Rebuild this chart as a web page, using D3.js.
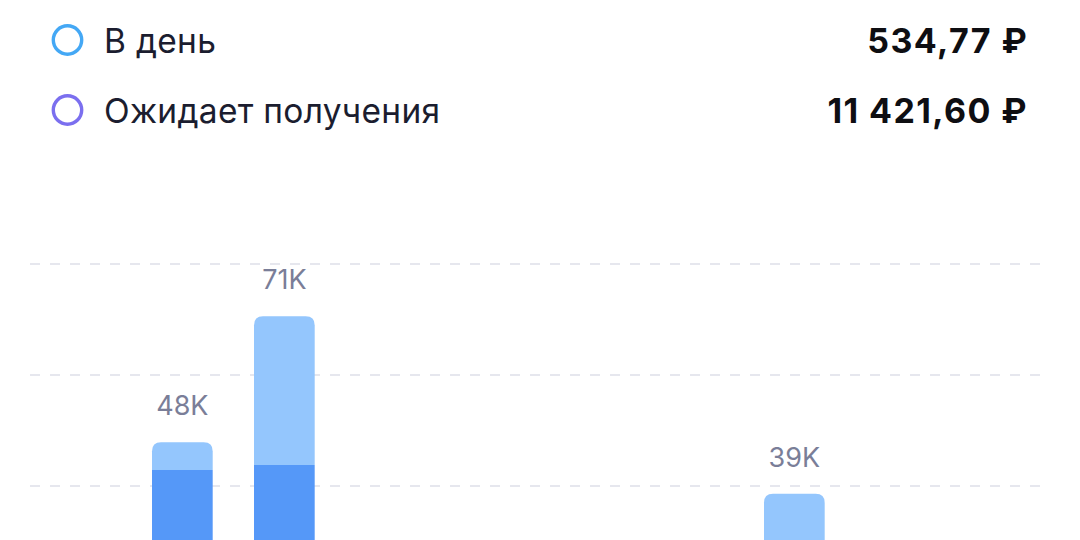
<!DOCTYPE html>
<html>
<head>
<meta charset="utf-8">
<script src="https://cdn.jsdelivr.net/npm/d3@7"></script>
<style>
  html, body { margin: 0; padding: 0; background: #fff; }
  svg { display: block; font-family: Inter, "Noto Sans", sans-serif; }
  .legend-label { font-size: 33.5px; letter-spacing: 0.3px; fill: #1b1d2f; }
  .legend-value { font-size: 34px; font-weight: 700; letter-spacing: 1.4px; fill: #0e0e12; }
  .bar-label { font-size: 27px; fill: #7a7e98; }
  .grid line { stroke: #e6e7ee; stroke-width: 2; stroke-dasharray: 10 10; }
</style>
</head>
<body>
<div id="chart"></div>
<script>
var W = 1080;
var H = 540;

// legend rows
var legendNames = ["В день", "Ожидает получения"];
var legendValues = ["534,77 ₽", "11 421,60 ₽"];
var legendColors = ["#44a8f5", "#7b6fef"];

// bars (x labels fall below the visible area)
var days = ["d1", "d2", "d3", "d4", "d5", "d6", "d7"];
var received = [42900, 43800, 0, 0, 0, 0, 0];
var pending = [5000, 26800, 0, 0, 0, 0, 38600];
var yTicks = [0, 20000, 40000, 60000, 80000];

var COLOR_RECEIVED = "#5598f8";
var COLOR_PENDING = "#94c6fd";
var RADIUS = 9;

var svg = d3.select('#chart')
    .append('svg')
    .attr('width', W)
    .attr('height', H);

// legend
var rows = svg.append('g')
    .attr('class', 'legend')
    .selectAll('g')
    .data(legendNames)
    .enter()
    .append('g')
    .attr('transform', function(d, i){ return 'translate(0,' + (i === 0 ? 40 : 110) + ')'; });

rows.append('circle')
    .attr('cx', 67.5)
    .attr('cy', 0)
    .attr('r', 14.2)
    .attr('fill', 'none')
    .attr('stroke-width', 3.4)
    .attr('stroke', function(d, i){ return legendColors[i]; });

rows.append('text')
    .attr('class', 'legend-label')
    .attr('x', 104)
    .attr('y', 12.5)
    .text(function(d){ return d; });

rows.append('text')
    .attr('class', 'legend-value')
    .attr('x', 1028)
    .attr('y', 12.5)
    .attr('text-anchor', 'end')
    .text(function(d, i){ return legendValues[i]; });

// chart
var table = days.map(function(d, i){
    return {day: d, received: received[i], pending: pending[i]};
});
var stack = d3.stack().keys(["received", "pending"]);
var layers = stack(table);

var x = d3.scaleBand()
    .domain(days)
    .range([110.7, 866])
    .padding(0.405);

var y = d3.scaleLinear()
    .domain([0, 80000])
    .range([708, 264]);

svg.append('g')
    .attr('class', 'grid')
    .selectAll('line')
    .data(yTicks)
    .enter()
    .append('line')
    .attr('x1', 30)
    .attr('x2', 1045)
    .attr('y1', function(d){ return y(d); })
    .attr('y2', function(d){ return y(d); });

function topRounded(x0, y0, w, h, r) {
    r = Math.min(r, h, w / 2);
    return 'M' + x0 + ',' + (y0 + h) +
        'V' + (y0 + r) +
        'Q' + x0 + ',' + y0 + ' ' + (x0 + r) + ',' + y0 +
        'H' + (x0 + w - r) +
        'Q' + (x0 + w) + ',' + y0 + ' ' + (x0 + w) + ',' + (y0 + r) +
        'V' + (y0 + h) + 'Z';
}

var colors = {received: COLOR_RECEIVED, pending: COLOR_PENDING};
var bars = svg.append('g').attr('class', 'bars');

layers.forEach(function(layer){
    bars.append('g')
        .attr('fill', colors[layer.key])
        .selectAll('path')
        .data(layer.filter(function(s){ return s[1] > s[0]; }))
        .enter()
        .append('path')
        .attr('d', function(s){
            var total = s.data.received + s.data.pending;
            var isTop = s[1] >= total;
            var x0 = x(s.data.day), w = x.bandwidth();
            var y0 = y(s[1]), h = y(s[0]) - y(s[1]);
            if (isTop) return topRounded(x0, y0, w, h, RADIUS);
            return 'M' + x0 + ',' + y0 + 'h' + w + 'v' + h + 'h' + (-w) + 'Z';
        });
});

// value labels above bars
svg.append('g')
    .selectAll('text')
    .data(table.filter(function(d){ return d.received + d.pending > 0; }))
    .enter()
    .append('text')
    .attr('class', 'bar-label')
    .attr('text-anchor', 'middle')
    .attr('x', function(d){ return x(d.day) + x.bandwidth() / 2; })
    .attr('y', function(d){ return y(d.received + d.pending) - 27; })
    .text(function(d){ return Math.round((d.received + d.pending) / 1000) + 'K'; });
</script>
</body>
</html>
